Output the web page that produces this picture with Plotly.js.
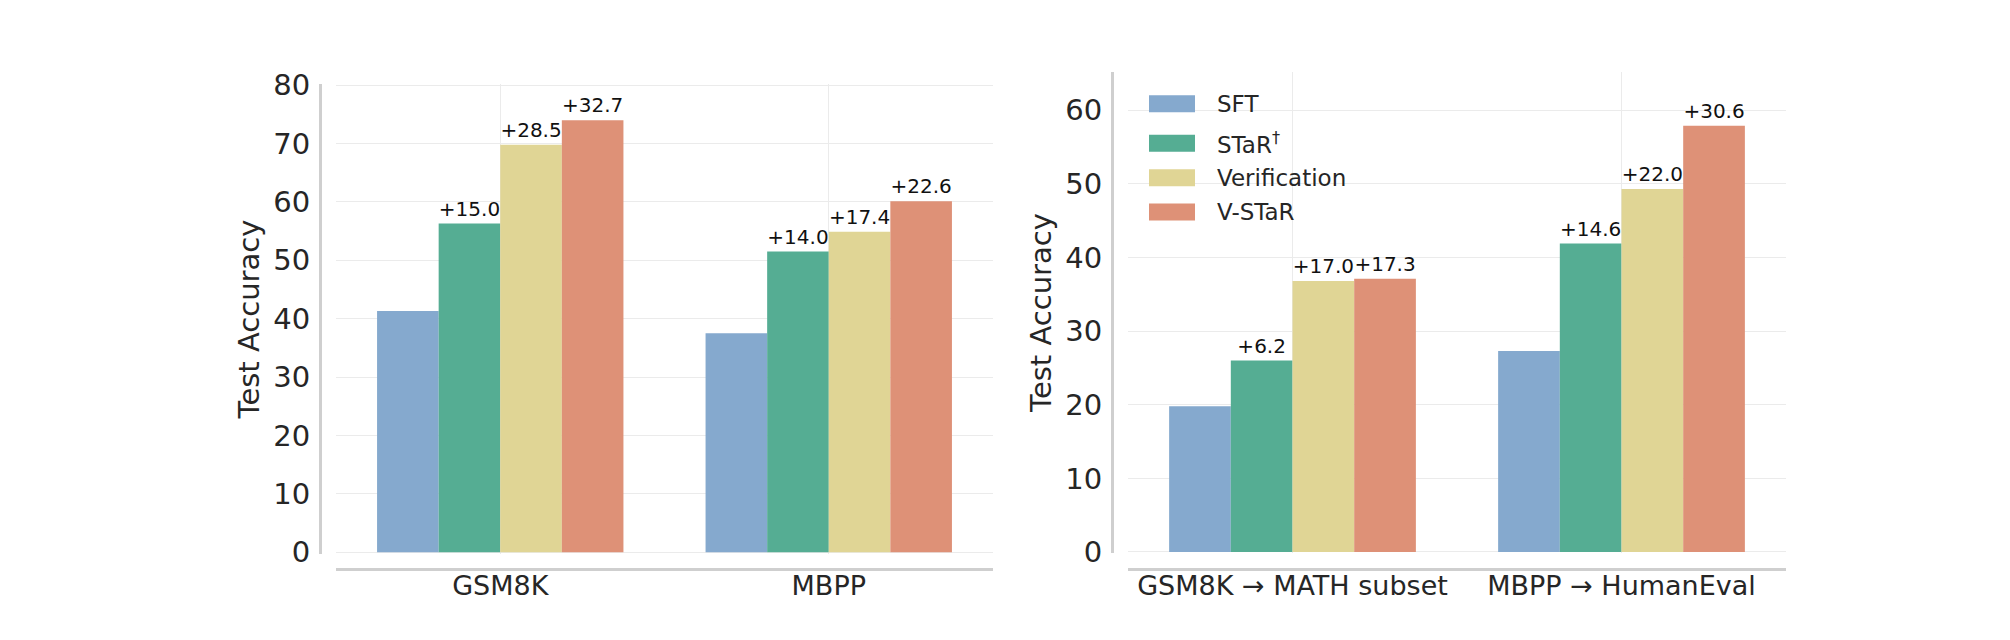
<!DOCTYPE html>
<html>
<head>
<meta charset="utf-8">
<script src="https://cdn.plot.ly/plotly-3.0.1.min.js"></script>
<style>
  html, body { margin: 0; padding: 0; background: #ffffff; }
  #chart { width: 2010px; height: 640px; }
</style>
</head>
<body>
<div id="chart"></div>
<script>
// ---- data ----
const seriesNames = ['SFT', 'STaR<sup>†</sup>', 'Verification', 'V-STaR'];
const seriesColors = ['#85A9CE', '#55AD93', '#E0D595', '#DE9177'];

const leftCategories = ['GSM8K', 'MBPP'];
const leftSFT = [41.3, 37.5];
const leftSTaR = [56.3, 51.5];
const leftVerification = [69.8, 54.9];
const leftVSTaR = [74.0, 60.1];
const leftSTaRGain = ['+15.0', '+14.0'];
const leftVerificationGain = ['+28.5', '+17.4'];
const leftVSTaRGain = ['+32.7', '+22.6'];

const rightCategories = ['GSM8K → MATH subset', 'MBPP → HumanEval'];
const rightSFT = [19.8, 27.3];
const rightSTaR = [26.0, 41.9];
const rightVerification = [36.8, 49.3];
const rightVSTaR = [37.1, 57.9];
const rightSTaRGain = ['+6.2', '+14.6'];
const rightVerificationGain = ['+17.0', '+22.0'];
const rightVSTaRGain = ['+17.3', '+30.6'];

const yTickValsLeft = [0, 10, 20, 30, 40, 50, 60, 70, 80];
const yTickValsRight = [0, 10, 20, 30, 40, 50, 60];
const yTitle = 'Test Accuracy';

// ---- helpers ----
const W = 2010, H = 640;
const fx = p => p / W;
const fy = p => 1 - p / H;
const FONT = 'DejaVu Sans, Verdana, sans-serif';
const TXT = '#262626';
const GRID = '#EBEBEB';
const SPINE = '#CFCFCF';

function barTrace(cats, vals, labels, idx, xa, ya) {
  const t = {
    type: 'bar',
    x: cats,
    y: vals,
    xaxis: xa,
    yaxis: ya,
    name: seriesNames[idx],
    showlegend: false,
    marker: { color: seriesColors[idx], line: { width: 0 } },
    cliponaxis: false,
    hoverinfo: 'skip'
  };
  if (labels) {
    t.text = labels;
    t.textposition = 'outside';
    t.textfont = { family: FONT, size: 20, color: '#111111' };
    t.constraintext = 'none';
  } else {
    t.textposition = 'none';
  }
  return t;
}

const data = [
  barTrace(leftCategories, leftSFT, null, 0, 'x', 'y'),
  barTrace(leftCategories, leftSTaR, leftSTaRGain, 1, 'x', 'y'),
  barTrace(leftCategories, leftVerification, leftVerificationGain, 2, 'x', 'y'),
  barTrace(leftCategories, leftVSTaR, leftVSTaRGain, 3, 'x', 'y'),
  barTrace(rightCategories, rightSFT, null, 0, 'x2', 'y2'),
  barTrace(rightCategories, rightSTaR, rightSTaRGain, 1, 'x2', 'y2'),
  barTrace(rightCategories, rightVerification, rightVerificationGain, 2, 'x2', 'y2'),
  barTrace(rightCategories, rightVSTaR, rightVSTaRGain, 3, 'x2', 'y2')
];

function xAxis(domain) {
  return {
    type: 'category',
    domain: domain,
    range: [-0.5, 1.5],
    anchor: 'free',
    position: fy(569),
    showline: true, linecolor: SPINE, linewidth: 3,
    showgrid: true, gridcolor: GRID, gridwidth: 1,
    zeroline: false,
    ticks: '',
    ticklabelstandoff: -8,
    tickfont: { family: FONT, size: 27, color: TXT },
    fixedrange: true
  };
}
function yAxis(domain, range, tickvals, pos) {
  return {
    domain: domain,
    range: range,
    anchor: 'free',
    position: pos,
    tickvals: tickvals,
    ticktext: tickvals.map(String),
    showline: true, linecolor: SPINE, linewidth: 3,
    showgrid: true, gridcolor: GRID, gridwidth: 1,
    zeroline: false,
    ticks: '',
    ticklabelstandoff: 3,
    tickfont: { family: FONT, size: 29, color: TXT },
    title: { text: yTitle, font: { family: FONT, size: 29, color: TXT }, standoff: 4 },
    fixedrange: true
  };
}

// hand-placed legend (large swatches as in the reference)
const legendRowsY = [103.7, 143.3, 177.7, 212];
const shapes = [];
const annotations = [];
seriesNames.forEach((name, i) => {
  shapes.push({
    type: 'rect', xref: 'paper', yref: 'paper',
    x0: fx(1149), x1: fx(1195),
    y0: fy(legendRowsY[i] + 8.5), y1: fy(legendRowsY[i] - 8.5),
    fillcolor: seriesColors[i], line: { width: 0 }, layer: 'above'
  });
  annotations.push({
    xref: 'paper', yref: 'paper',
    x: fx(1215), y: fy(legendRowsY[i]),
    xanchor: 'left', yanchor: 'middle',
    text: name, showarrow: false,
    font: { family: FONT, size: 23, color: TXT }
  });
});

const layout = {
  width: W, height: H,
  margin: { l: 0, r: 0, t: 0, b: 0 },
  paper_bgcolor: '#ffffff',
  plot_bgcolor: 'rgba(0,0,0,0)',
  font: { family: FONT, color: TXT },
  barmode: 'group',
  bargap: 0.25,
  bargroupgap: 0,
  showlegend: false,
  xaxis: xAxis([fx(336), fx(993)]),
  yaxis: yAxis([fy(554), fy(84)], [-0.3, 80.2], yTickValsLeft, fx(320)),
  xaxis2: xAxis([fx(1128), fx(1786)]),
  yaxis2: yAxis([fy(553), fy(72)], [-0.14, 65.2], yTickValsRight, fx(1112)),
  shapes: shapes,
  annotations: annotations
};

Plotly.newPlot('chart', data, layout, { displayModeBar: false, staticPlot: true });
</script>
</body>
</html>
